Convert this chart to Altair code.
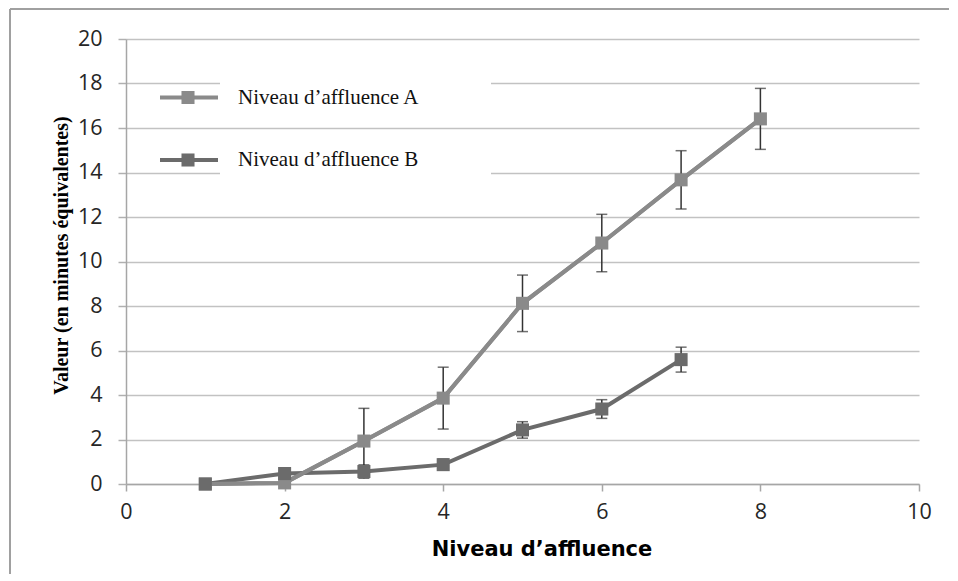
import altair as alt
import pandas as pd

# --- data ---
a_levels = [1, 2, 3, 4, 5, 6, 7, 8]
a_values = [0.0, 0.05, 1.93, 3.86, 8.12, 10.83, 13.67, 16.41]
a_errors = [0.0, 0.0, 1.47, 1.39, 1.27, 1.29, 1.31, 1.37]

b_levels = [1, 2, 3, 4, 5, 6, 7]
b_values = [0.0, 0.47, 0.56, 0.87, 2.43, 3.37, 5.59]
b_errors = [0.0, 0.0, 0.3, 0.25, 0.37, 0.42, 0.56]

series_names = ["Niveau d\u2019affluence A", "Niveau d\u2019affluence B"]
x_ticks = [0, 2, 4, 6, 8, 10]
y_ticks = [0, 2, 4, 6, 8, 10, 12, 14, 16, 18, 20]

col_a = "#8a8a8a"
col_b = "#6b6b6b"

W, H = 793, 445

df_a = pd.DataFrame({"x": a_levels, "y": a_values, "e": a_errors})
df_a["lo"] = df_a["y"] - df_a["e"]
df_a["hi"] = df_a["y"] + df_a["e"]
df_b = pd.DataFrame({"x": b_levels, "y": b_values, "e": b_errors})
df_b["lo"] = df_b["y"] - df_b["e"]
df_b["hi"] = df_b["y"] + df_b["e"]

xscale = alt.Scale(domain=[0, 10], nice=False)
yscale = alt.Scale(domain=[0, 20], nice=False)

xaxis = alt.Axis(values=x_ticks, format="d", grid=False, tickSize=7, tickColor="#a6a6a6",
                 domainColor="#a6a6a6", domainWidth=1.5, tickWidth=1.5,
                 labelFont="Open Sans", labelFontSize=21.5, labelColor="#262626",
                 labelPadding=10, labelFlush=False, title="Niveau d\u2019affluence",
                 titleFont="DejaVu Sans", titleFontWeight="bold", titleFontSize=21,
                 titleColor="#000000", titlePadding=16, titleX=W / 2 + 19)
yaxis = alt.Axis(values=y_ticks, format="d", grid=True, gridColor="#c2c2c2", gridWidth=1.6,
                 tickSize=8, tickColor="#b0b0b0", tickWidth=1.5,
                 domainColor="#a6a6a6", domainWidth=1.5,
                 labelFont="Open Sans", labelFontSize=21.5, labelColor="#262626",
                 labelPadding=16, labelFlush=False, title="Valeur (en minutes \u00e9quivalentes)",
                 titleFont="Liberation Serif", titleFontWeight="bold", titleFontSize=20,
                 titleColor="#000000", titlePadding=6, titleY=216)


def errorbars(df):
    base = alt.Chart(df)
    rule = base.mark_rule(color="#333333", strokeWidth=1.5).encode(
        x=alt.X("x:Q", scale=xscale), y=alt.Y("lo:Q", scale=yscale), y2="hi:Q")
    cap_lo = base.mark_tick(color="#333333", thickness=1.5, size=11, orient="horizontal").encode(
        x=alt.X("x:Q", scale=xscale), y=alt.Y("lo:Q", scale=yscale))
    cap_hi = base.mark_tick(color="#333333", thickness=1.5, size=11, orient="horizontal").encode(
        x=alt.X("x:Q", scale=xscale), y=alt.Y("hi:Q", scale=yscale))
    return [rule, cap_lo, cap_hi]


def line(df, col):
    return alt.Chart(df).mark_line(color=col, strokeWidth=4).encode(
        x=alt.X("x:Q", scale=xscale, axis=xaxis),
        y=alt.Y("y:Q", scale=yscale, axis=yaxis))


def squares(df, col):
    return alt.Chart(df).mark_square(color=col, opacity=1, size=170).encode(
        x=alt.X("x:Q", scale=xscale), y=alt.Y("y:Q", scale=yscale))


# --- legend (manual, inside plot) ---
one = pd.DataFrame({"k": [0]})
leg_layers = []
for i, (name, col, ly) in enumerate([(series_names[0], col_a, 58.5), (series_names[1], col_b, 121)]):
    box_top, box_bot = (36, 80) if i == 0 else (100, 146)
    leg_layers.append(alt.Chart(one).mark_rect(color="white").encode(
        x=alt.value(94), x2=alt.value(365), y=alt.value(box_top), y2=alt.value(box_bot)))
    leg_layers.append(alt.Chart(one).mark_rule(color=col, strokeWidth=4).encode(
        x=alt.value(34), x2=alt.value(92), y=alt.value(ly)))
    leg_layers.append(alt.Chart(one).mark_square(color=col, opacity=1, size=170).encode(
        x=alt.value(62), y=alt.value(ly)))
    leg_layers.append(alt.Chart(pd.DataFrame({"t": [name]})).mark_text(
        align="left", baseline="middle", font="Liberation Serif", fontSize=21, color="#111111").encode(
        x=alt.value(112), y=alt.value(ly), text="t:N"))

# --- outer frame (left and top edges) ---
frame = [
    alt.Chart(one).mark_rule(color="#a0a0a0", strokeWidth=2).encode(
        x=alt.value(-116), x2=alt.value(900), y=alt.value(-30)),
    alt.Chart(one).mark_rule(color="#a0a0a0", strokeWidth=2).encode(
        x=alt.value(-116), y=alt.value(-30), y2=alt.value(560)),
]

layers = ([line(df_a, col_a)] + errorbars(df_a) + errorbars(df_b) +
          [line(df_b, col_b), line(df_a, col_a), squares(df_a, col_a), squares(df_b, col_b)] +
          leg_layers + frame)

chart = alt.layer(*layers).properties(
    width=W, height=H,
    autosize=alt.AutoSizeParams(type="none"),
    padding={"left": 118, "top": 31, "right": 30, "bottom": 90},
    background="white",
).configure_view(stroke=None)

chart.save("out.html", embed_options={"renderer": "svg", "actions": False})
